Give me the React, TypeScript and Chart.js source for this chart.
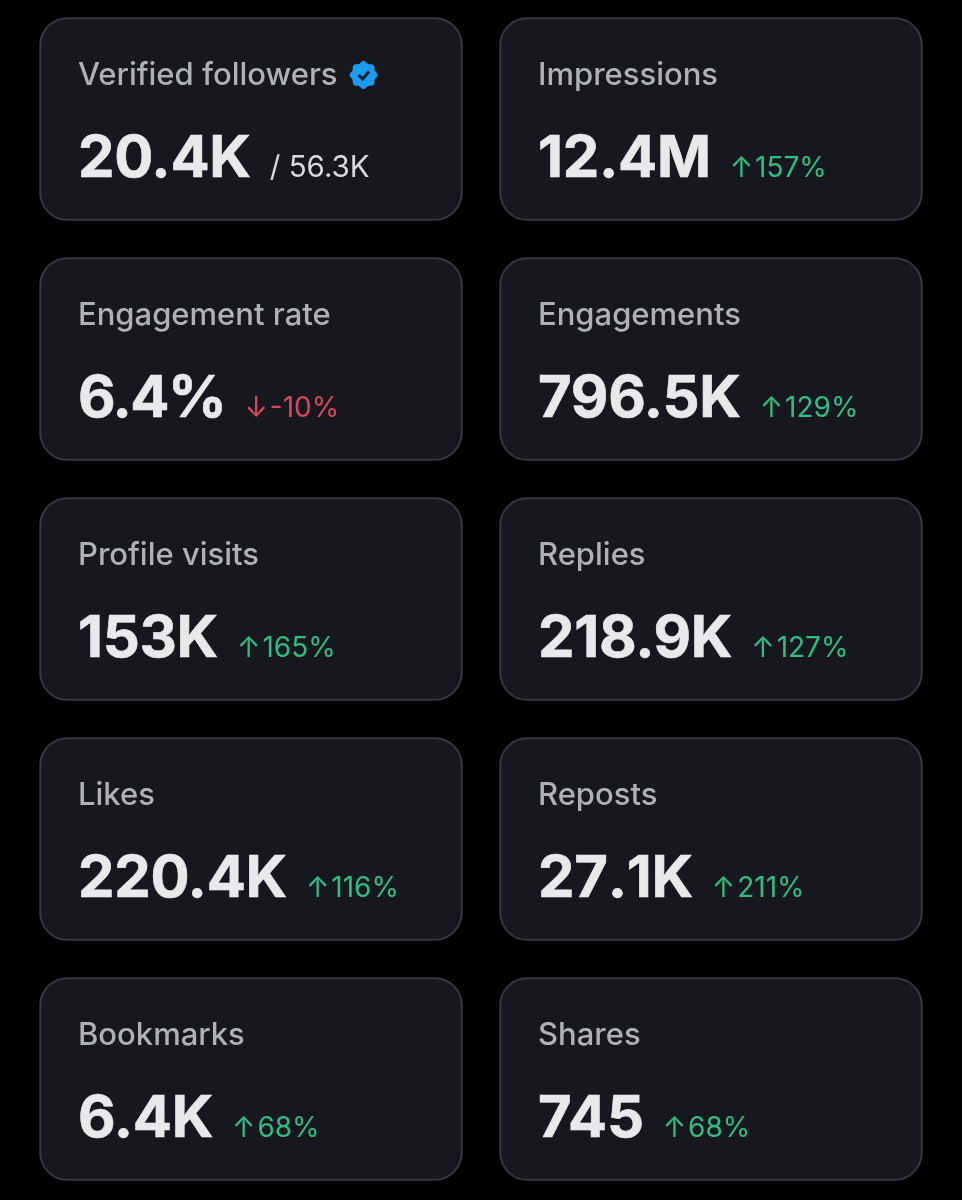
import React, { useEffect, useRef } from "react";
import { Chart, registerables } from "chart.js";

Chart.register(...registerables);

const metricLabels = ["Verified followers", "Impressions", "Engagement rate", "Engagements", "Profile visits", "Replies", "Likes", "Reposts", "Bookmarks", "Shares"];
const metricValues = ["20.4K", "12.4M", "6.4%", "796.5K", "153K", "218.9K", "220.4K", "27.1K", "6.4K", "745"];
const metricChanges = ["/ 56.3K", "157%", "-10%", "129%", "165%", "127%", "116%", "211%", "68%", "68%"];
const changeKinds = ["total", "up", "down", "up", "up", "up", "up", "up", "up", "up"];

const FONT = "Inter, 'Noto Sans', sans-serif";

const drawBadge = (ctx: CanvasRenderingContext2D, cx: number, cy: number) => {
  ctx.save();
  ctx.fillStyle = "#1d9bf0";
  ctx.beginPath();
  const n = 8;
  for (let i = 0; i <= 360; i += 3) {
    const a = (i * Math.PI) / 180;
    const r = 13 + 1 * Math.cos(n * a);
    const x = cx + r * Math.cos(a);
    const y = cy + r * Math.sin(a);
    if (i === 0) ctx.moveTo(x, y);
    else ctx.lineTo(x, y);
  }
  ctx.closePath();
  ctx.fill();
  ctx.strokeStyle = "#12263a";
  ctx.lineWidth = 3;
  ctx.lineCap = "butt";
  ctx.lineJoin = "miter";
  ctx.beginPath();
  ctx.moveTo(cx - 5, cy);
  ctx.lineTo(cx - 1, cy + 4);
  ctx.lineTo(cx + 5.5, cy - 3.5);
  ctx.stroke();
  ctx.restore();
};

const cardsPlugin = {
  id: "cards",
  beforeDraw(chart: any) {
    const ctx: CanvasRenderingContext2D = chart.ctx;
    ctx.save();
    ctx.fillStyle = "#000000";
    ctx.fillRect(0, 0, chart.width, chart.height);
    ctx.textBaseline = "alphabetic";
    ctx.textAlign = "left";
    metricLabels.forEach((label, i) => {
      const col = i % 2;
      const row = Math.floor(i / 2);
      const left = 40 + col * 460;
      const top = 18 + row * 240;
      ctx.beginPath();
      ctx.roundRect(left + 0.25, top + 0.25, 421.5, 201.5, 27);
      ctx.fillStyle = "#16181d";
      ctx.fill();
      ctx.lineWidth = 2;
      ctx.strokeStyle = "#36393e";
      ctx.stroke();

      const textX = left + 38;
      ctx.font = `500 31px ${FONT}`;
      ctx.fillStyle = "#aeb1b5";
      ctx.fillText(label, textX, top + 67);
      if (i === 0) drawBadge(ctx, textX + ctx.measureText(label).width + 26, top + 57);

      ctx.font = `700 58px ${FONT}`;
      ctx.fillStyle = "#e7e9ea";
      ctx.strokeStyle = "#e7e9ea";
      ctx.lineWidth = 0.6;
      const value = metricValues[i];
      ctx.fontKerning = value === "27.1K" ? "none" : "auto";
      ctx.letterSpacing = value === "6.4%" ? "-1.5px" : "-0.3px";
      ctx.fillText(value, textX, top + 158.5);
      ctx.strokeText(value, textX, top + 158.5);
      const valueEnd = textX + ctx.measureText(value).width;
      ctx.fontKerning = "auto";
      ctx.letterSpacing = "0px";

      const kind = changeKinds[i];
      const change = metricChanges[i];
      if (kind === "total") {
        ctx.font = `400 29.5px ${FONT}`;
        ctx.fillStyle = "#d9dbdd";
        ctx.fillText(change, valueEnd + 19, top + 159);
      } else {
        ctx.font = `400 28px ${FONT}`;
        ctx.fillStyle = kind === "up" ? "#30bd86" : "#d9485a";
        const arrow = kind === "up" ? "↑" : "↓";
        const ax = valueEnd + 19;
        ctx.fillText(arrow, ax, top + 159);
        ctx.fillText(change, ax + ctx.measureText(arrow).width + 2, top + 159);
      }
    });
    ctx.restore();
  },
};

export default function App() {
  const ref = useRef<HTMLCanvasElement>(null);
  useEffect(() => {
    const chart = new Chart(ref.current!, {
      type: "bar",
      data: { labels: metricLabels, datasets: [] },
      options: {
        animation: false,
        responsive: false,
        devicePixelRatio: 1,
        layout: { padding: 0 },
        plugins: { legend: { display: false }, tooltip: { enabled: false } },
        scales: { x: { display: false }, y: { display: false } },
      },
      plugins: [cardsPlugin],
    } as any);
    return () => chart.destroy();
  }, []);
  return (
    <div style={{ position: "absolute", left: 0, top: 0, width: 962, height: 1200, background: "#000" }}>
      <canvas ref={ref} width={962} height={1200} style={{ display: "block", width: 962, height: 1200 }} />
    </div>
  );
}
